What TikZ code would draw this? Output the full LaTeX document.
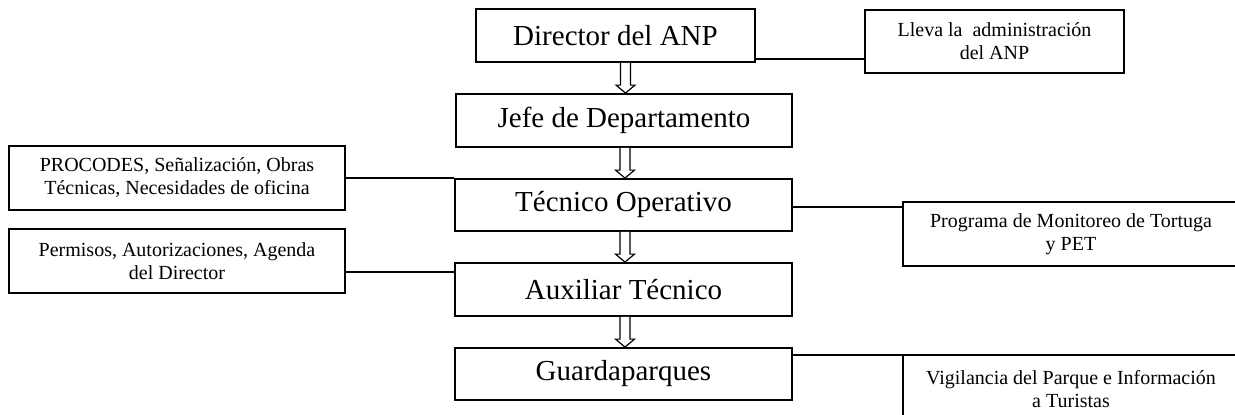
\documentclass[tikz,border=0pt]{standalone}
\usepackage{fontspec}
\setmainfont{Liberation Serif}
\begin{document}
\begin{tikzpicture}[x=1pt,y=-1pt,
  bigbox/.style={draw,line width=1.8pt,inner sep=0pt,minimum height=53pt,
    font=\fontsize{29}{34}\selectfont},
  smallbox/.style={draw,line width=1.8pt,inner sep=0pt,align=center,
    font=\fontsize{20}{23}\selectfont},
  link/.style={line width=1.4pt},
  hollow/.style={line width=1.2pt,fill=white,line join=miter}]
\clip (0,0) rectangle (1235,415);
\fill[white] (0,0) rectangle (1235,415);
% main column
\node[bigbox,minimum width=279pt] (dir) at (615.5,35.5) {Director del ANP};
\node[bigbox,minimum width=336pt] (jefe) at (624,120.5) {Jefe de Departamento};
\node[bigbox,minimum width=337pt,minimum height=52pt] (tec) at (623.5,205) {Técnico Operativo};
\node[bigbox,minimum width=337pt] (aux) at (623.5,289.5) {Auxiliar Técnico};
\node[bigbox,minimum width=337pt,minimum height=52pt] (guard) at (623.5,374) {Guardaparques};
% side boxes
\node[smallbox,minimum width=259pt,minimum height=63pt] (lleva) at (994.5,41.5) {Lleva la\ \ administración\\del ANP};
\node[smallbox,minimum width=336pt,minimum height=64pt] (proc) at (177,178) {PROCODES, Señalización, Obras\\Técnicas, Necesidades de oficina};
\node[smallbox,minimum width=336pt,minimum height=64pt] (perm) at (177,261) {Permisos, Autorizaciones, Agenda\\del Director};
\node[smallbox,minimum width=336pt,minimum height=64pt] (prog) at (1071,234) {Programa de Monitoreo de Tortuga\\y PET};
\node[smallbox,minimum width=336pt,minimum height=68pt] (vig) at (1071,389) {Vigilancia del Parque e Información\\a Turistas};
% connectors
\draw[link] ([yshift=4pt]dir.south east) -- ([yshift=4pt]dir.south east -| lleva.west);
\draw[link] (proc.east) -- (proc.east -| tec.west);
\draw[link] ([yshift=-2pt]tec.east) -- ([yshift=-2pt]tec.east -| prog.west);
\draw[link] ([yshift=-11pt]perm.east) -- ([yshift=-11pt]perm.east -| aux.west);
\draw[link] ([yshift=-8pt]guard.north east) -- ([yshift=-8pt]guard.north east -| vig.west);
% hollow arrows
\newcommand\hollowarrow[2]{%
  \path ([xshift=1.5pt]#1.south -| #2.north) coordinate (ht)
        ([xshift=1.5pt]#2.north) coordinate (hb);
  \draw[hollow] ([xshift=-5pt]ht) -- ([xshift=-5pt,yshift=8pt]hb)
    -- ([xshift=-9.5pt,yshift=8pt]hb) -- (hb)
    -- ([xshift=9.5pt,yshift=8pt]hb) -- ([xshift=5pt,yshift=8pt]hb)
    -- ([xshift=5pt]ht);}
\hollowarrow{dir}{jefe}
\hollowarrow{jefe}{tec}
\hollowarrow{tec}{aux}
\hollowarrow{aux}{guard}
\end{tikzpicture}
\end{document}
